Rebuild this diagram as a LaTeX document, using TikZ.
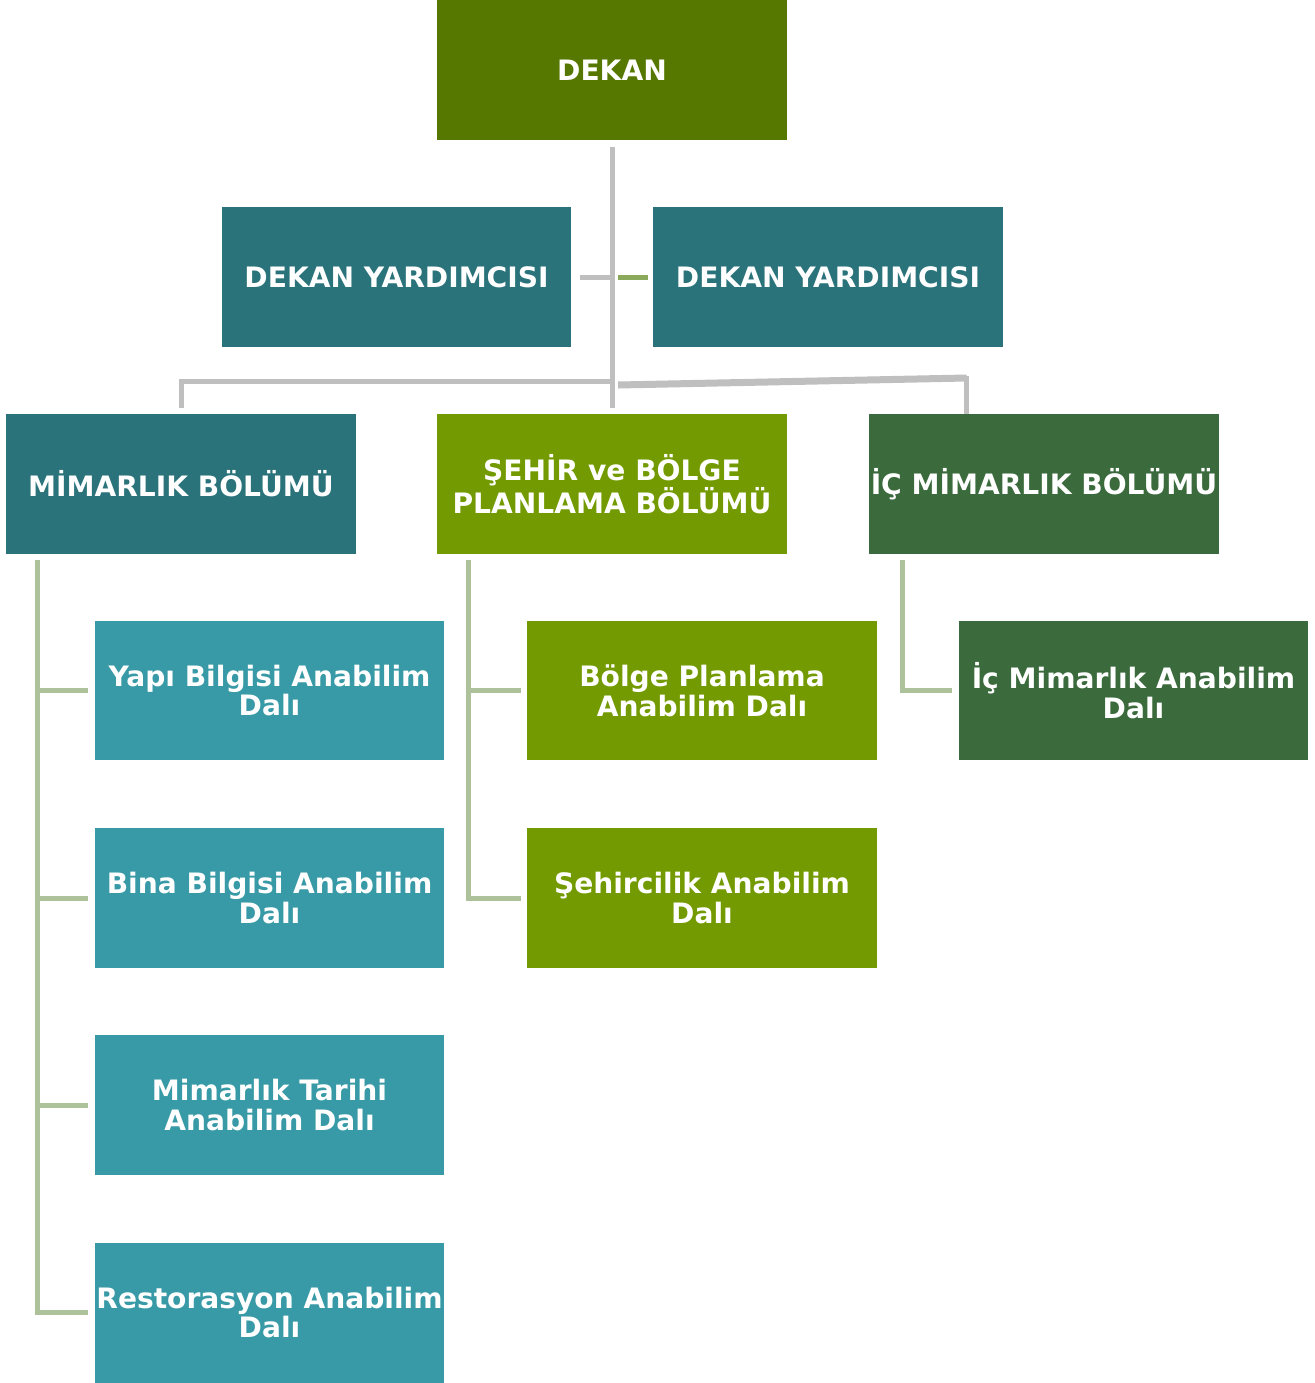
\documentclass[tikz,border=0pt]{standalone}
\usepackage{fontspec}
\setmainfont{DejaVu Sans}
\usetikzlibrary{calc}
\definecolor{dekancol}{HTML}{577800}
\definecolor{tealdark}{HTML}{2B737B}
\definecolor{teallight}{HTML}{389AA6}
\definecolor{planlama}{HTML}{739A00}
\definecolor{icmim}{HTML}{3B6B3D}
\definecolor{linegray}{HTML}{BFBFBF}
\definecolor{linegreen}{HTML}{ADC29A}
\definecolor{shortgreen}{HTML}{8BA95A}
\tikzstyle{unitbox}=[rectangle,minimum width=7cm,minimum height=2.8cm,inner sep=1pt,text=white,align=center,font=\bfseries\fontsize{16}{17}\selectfont]
\tikzstyle{grayedge}=[draw,line width=0.1cm,linegray]
\tikzstyle{greenedge}=[draw,line width=0.1cm,linegreen]

\begin{document}
\begin{tikzpicture}[x=0.02cm,y=-0.02cm]

  \useasboundingbox (0,0) rectangle (1315,1383);

%layer 1
    \foreach \pos/\name/\col/\txt in {{(612,70)/dekan/dekancol/DEKAN}, {(396.5,277)/dyl/tealdark/DEKAN YARDIMCISI}, {(828,277)/dyr/tealdark/DEKAN YARDIMCISI}}
        \node[unitbox,fill=\col] (\name) at \pos {\txt};
%layer 2
    \foreach \pos/\name/\col/\txt in {{(181,484)/mim/tealdark/MİMARLIK BÖLÜMÜ}, {(612,484)/seh/planlama/ŞEHİR ve BÖLGE\\PLANLAMA BÖLÜMÜ}, {(1044,484)/ic/icmim/İÇ MİMARLIK BÖLÜMÜ}}
        \node[unitbox,fill=\col] (\name) at \pos {\txt};
%layer 3
    \foreach \pos/\name/\txt in {{(269.5,690.5)/yapi/Yapı Bilgisi Anabilim\\Dalı}, {(269.5,898)/bina/Bina Bilgisi Anabilim\\Dalı}, {(269.5,1105)/tarih/Mimarlık Tarihi\\Anabilim Dalı}, {(269.5,1312.5)/rest/Restorasyon Anabilim\\Dalı}}
        \node[unitbox,fill=teallight] (\name) at \pos {\txt};
    \foreach \pos/\name/\txt in {{(702,690.5)/bolge/Bölge Planlama\\Anabilim Dalı}, {(702,898)/sehir/Şehircilik Anabilim\\Dalı}}
        \node[unitbox,fill=planlama] (\name) at \pos {\txt};
    \node[unitbox,fill=icmim] (icana) at (1133.5,690.5) {İç Mimarlık Anabilim\\Dalı};

    % gray lines under the dean
    \coordinate (bus) at (dekan.south |- 0,381);
    \coordinate (icdrop) at ([xshift=1.96cm]ic.north west);
    \path[grayedge] ([yshift=-0.14cm]dekan.south) -- ([yshift=0.12cm]seh.north);
    \path[grayedge] ([xshift=0.16cm]dyl.east) -- (dekan.south |- dyl.east);
    \draw[line width=0.1cm,shortgreen] ([xshift=0.12cm]dekan.south |- dyr.west) -- ([xshift=-0.1cm]dyr.west);
    \path[grayedge] (bus) -| ([yshift=0.12cm]mim.north);
    \path[grayedge,line width=0.14cm] ([xshift=0.12cm,yshift=-0.08cm]bus) -- ([yshift=0.06cm]bus -| icdrop);
    \path[grayedge] ([yshift=0.1cm]bus -| icdrop) -- (icdrop);

    % green lines to the departments
    \path[greenedge] ([xshift=0.64cm,yshift=-0.12cm]mim.south west) |- ([xshift=-0.12cm]rest.west);
    \foreach \dest in {yapi, bina, tarih}
        \path[greenedge] ([xshift=0.64cm]mim.south west |- \dest.west) -- ([xshift=-0.12cm]\dest.west);
    \path[greenedge] ([xshift=0.64cm,yshift=-0.12cm]seh.south west) |- ([xshift=-0.12cm]sehir.west);
    \path[greenedge] ([xshift=0.64cm]seh.south west |- bolge.west) -- ([xshift=-0.12cm]bolge.west);
    \path[greenedge] ([xshift=0.68cm,yshift=-0.12cm]ic.south west) |- ([xshift=-0.12cm]icana.west);

\end{tikzpicture}
\end{document}
